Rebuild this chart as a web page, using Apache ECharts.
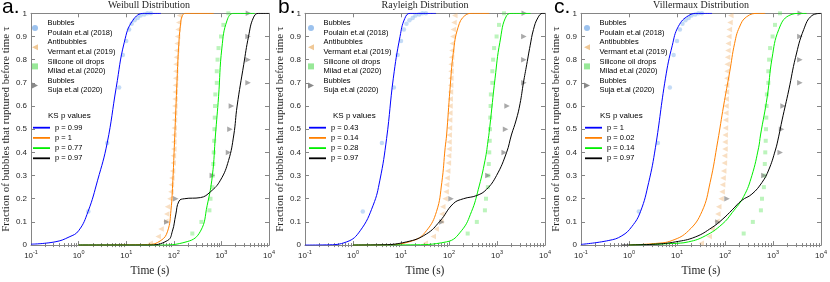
<!DOCTYPE html>
<html><head><meta charset="utf-8">
<script src="https://cdn.jsdelivr.net/npm/echarts@6/dist/echarts.min.js"></script>
<style>html,body{margin:0;padding:0;background:#fff}#c{width:830px;height:282px}</style>
</head><body><div id="c"></div>
<script>
// ---------------- DATA ----------------
const panelTitles = ['Weibull Distribution', 'Rayleigh Distribution', 'Villermaux Distribution'];
const panelLetters = ['a.', 'b.', 'c.'];
const xTickValues = [0.1, 1, 10, 100, 1000, 10000];
const xTickExponents = ['-1', '0', '1', '2', '3', '4'];
const xMinorTicks = [0.2,0.3,0.4,0.5,0.6,0.7,0.8,0.9,2,3,4,5,6,7,8,9,20,30,40,50,60,70,80,90,
  200,300,400,500,600,700,800,900,2000,3000,4000,5000,6000,7000,8000,9000];
const yAxisName = 'Fraction of bubbles that ruptured before time \u03c4';
const xAxisName = 'Time (s)';
const scatterNames = ['Bubbles\nPoulain et.al (2018)', 'Antibubbles\nVermant et.al (2019)',
  'Silicone oil drops\nMilad et.al (2020)', 'Bubbles\nSuja et.al (2020)'];
const ksTitle = 'KS p values';
const ksValues = [['0.99', '1', '0.77', '0.97'], ['0.43', '0.14', '0.28', '0.97'], ['1', '0.02', '0.14', '0.97']];

// experimental points (same in every panel): [time (s), fraction]
const poulainBubbles = [[1.6,0.145],[4.0,0.44],[7.1,0.68],[8.5,0.82],[10,0.88],[11.5,0.93],[13,0.955],
  [15,0.97],[17.5,0.98],[20,0.99],[24,0.995],[28,1.0],[33,1.0]];
const vermantAntibubbles = [[32,0.008],[47,0.037],[54,0.069],[68,0.103],[71,0.134],[74,0.165],[83,0.2],
  [87,0.23],[89,0.26],[91,0.29],[94,0.32],[97,0.354],[98,0.385],[100,0.415],[100,0.445],[101,0.475],
  [102,0.505],[103,0.54],[104,0.57],[105,0.6],[106,0.63],[107,0.66],[108,0.69],[109,0.72],[110,0.75],
  [111,0.78],[113,0.81],[115,0.84],[117,0.87],[120,0.9],[123,0.93],[127,0.96],[132,0.99]];
const miladDrops = [[245,0.05],[380,0.1],[560,0.15],[590,0.2],[645,0.25],[660,0.3],[675,0.35],[690,0.4],
  [705,0.45],[715,0.5],[725,0.55],[735,0.6],[745,0.65],[800,0.7],[800,0.75],[830,0.8],[870,0.85],
  [980,0.9],[1100,0.95],[1400,1.0]];
const sujaBubbles = [[71,0.1],[110,0.2],[645,0.3],[1410,0.4],[1510,0.5],[1620,0.6],[3630,0.7],
  [3630,0.8],[3630,0.9],[3700,1.0]];

// fitted CDFs: [time (s), fraction]
const weibullBlue = [[0.1,0.004],[0.32,0.014],[0.63,0.035],[1,0.062],[1.58,0.145],[2.51,0.28],[3.98,0.44],
  [6.17,0.68],[9.12,0.875],[13.8,0.97],[24,1.0],[53.7,1.0]];
const weibullOrange = [[1,0],[28.2,0.002],[53.7,0.02],[74.1,0.06],[87.1,0.15],[95.5,0.28],[102.3,0.42],
  [109.6,0.57],[117.5,0.72],[125.9,0.85],[138,0.95],[151.4,0.99],[177.8,1.0],[690,1.0]];
const weibullGreen = [[1,0],[45.7,0],[191,0.015],[363,0.06],[501,0.17],[646,0.30],[750,0.475],[871,0.64],
  [1023,0.85],[1318,0.97],[1820,1.0],[5000,1.0]];
const weibullBlack = [[1,0],[28.2,0],[74.1,0.02],[93.3,0.06],[109.6,0.13],[128.8,0.19],[166,0.2],[363,0.205],
  [589,0.23],[955,0.28],[1413,0.365],[1820,0.475],[2138,0.6],[2951,0.78],[3715,0.9],[4677,0.98],
  [6026,1.0],[10000,1.0]];

const rayleighBlue = [[0.1,0],[0.282,0.001],[0.741,0.014],[1.413,0.062],[2.63,0.172],[3.631,0.28],
  [5.012,0.46],[6.918,0.72],[9.55,0.9],[12.02,0.978],[15.49,1.0],[53.7,1.0]];
const rayleighOrange = [[1,0],[4.266,0.001],[18.2,0.02],[33.88,0.062],[54.95,0.145],[70.79,0.27],
  [83.18,0.42],[89.13,0.475],[104.7,0.67],[123,0.83],[154.9,0.94],[213.8,0.99],[323.6,1.0],[690,1.0]];
const rayleighGreen = [[1,0],[15.49,0.001],[89.13,0.014],[182,0.062],[295.1,0.145],[407.4,0.24],
  [562.3,0.365],[660.7,0.46],[707.9,0.51],[912,0.72],[1148,0.875],[1585,0.99],[2188,1.0],[5000,1.0]];
const rayleighBlack = [[1,0],[3.631,0.001],[13.18,0.014],[33.88,0.048],[64.57,0.103],[123,0.179],
  [199.5,0.2],[380.2,0.214],[602.6,0.24],[977.2,0.30],[1585,0.40],[1995,0.475],[2512,0.54],[3020,0.61],
  [3548,0.7],[4169,0.78],[4898,0.86],[5754,0.93],[7079,0.98],[8913,1.0],[10000,1.0]];

const villermauxBlue = [[0.1,0.003],[0.38,0.02],[0.708,0.04],[1.148,0.08],[1.738,0.145],[2.57,0.27],
  [3.548,0.42],[5.754,0.72],[7.943,0.86],[10.72,0.944],[17.38,0.99],[28.18,1.0],[53.7,1.0]];
const villermauxOrange = [[1,0.001],[3.548,0.007],[7.943,0.02],[17.38,0.062],[33.11,0.145],[48.98,0.27],
  [70.79,0.45],[93.3,0.6],[125.9,0.75],[158.5,0.87],[199.5,0.94],[281.8,0.985],[501,1.0],[690,1.0]];
const villermauxGreen = [[1,0],[7.943,0.007],[17.38,0.014],[38.9,0.04],[87.1,0.09],[141.3,0.14],
  [245.5,0.21],[363.1,0.30],[501.2,0.42],[549.5,0.475],[758.6,0.64],[955,0.806],[1318,0.93],
  [2138,0.99],[3981,1.0],[5000,1.0]];
const villermauxBlack = [[0.708,0],[3.548,0.004],[9.333,0.014],[23.99,0.035],[53.7,0.076],[87.1,0.11],
  [141.3,0.152],[223.9,0.193],[363.1,0.22],[588.8,0.27],[812.8,0.324],[1122,0.41],[1318,0.47],
  [1549,0.54],[2138,0.67],[2951,0.81],[4365,0.93],[6457,0.99],[10000,1.0]];

// ---------------- CHART ----------------
const fits = [
  [weibullBlue, weibullOrange, weibullGreen, weibullBlack],
  [rayleighBlue, rayleighOrange, rayleighGreen, rayleighBlack],
  [villermauxBlue, villermauxOrange, villermauxGreen, villermauxBlack]
];
const scatterSets = [poulainBubbles, vermantAntibubbles, miladDrops, sujaBubbles];
const fitColors = ['#0000ff', '#ff8000', '#00ee00', '#000000'];
const scatterColors = ['rgba(90,155,230,0.45)', 'rgba(236,165,90,0.45)', 'rgba(70,225,70,0.45)', 'rgba(120,120,120,0.8)'];
const legendMarkColors = ['#9cc2ee', '#f0c896', '#98e898', '#8a8a8a'];
const scatterSymbols = ['circle', 'path://M0,5L10,0L10,10Z', 'rect', 'path://M10,5L0,0L0,10Z'];
const scatterSizes = [4.5, 5.5, 4, 5.5];

const SANS = '"Liberation Sans", Arial, Helvetica, sans-serif';
const SERIF = '"Liberation Serif", "Times New Roman", serif';
const FRAME = '#858585';
const LAB = '#262626';
const lefts = [29, 305, 581];
const W = 240, TOP = 13.3, H = 241.7;
const ksTitleOffsets = [19, 28, 19];

const labelMap = {};
const option = {
  animation: false, backgroundColor: '#fff',
  grid: [], xAxis: [], yAxis: [], series: [], legend: [], title: [], graphic: []
};

function expOf(v) {
  let best = 0, bd = Infinity;
  xTickValues.forEach((t, i) => { const d = Math.abs(Math.log(v / t)); if (d < bd) { bd = d; best = i; } });
  return xTickExponents[best];
}

for (let p = 0; p < 3; p++) {
  const L = lefts[p];
  option.grid.push({ left: L, top: TOP, width: W, height: H });
  const baseX = { type: 'log', logBase: 10, min: 0.1, max: 10000, gridIndex: p, splitLine: { show: false } };
  option.xAxis.push(Object.assign({}, baseX, {
    position: 'bottom',
    name: xAxisName, nameLocation: 'middle', nameGap: 14.5,
    nameTextStyle: { fontFamily: SERIF, fontSize: 11.5, color: LAB },
    axisLine: { show: true, onZero: false, lineStyle: { color: FRAME, width: 1 } },
    axisTick: { show: true, inside: true, length: 4, customValues: xTickValues, lineStyle: { color: FRAME } },
    axisLabel: {
      show: true, customValues: xTickValues, margin: 4, color: LAB,
      formatter: v => '{b|10}{s|' + expOf(v) + '}',
      rich: {
        b: { fontFamily: SANS, fontSize: 8, color: LAB, lineHeight: 11, verticalAlign: 'bottom' },
        s: { fontFamily: SANS, fontSize: 5.5, color: LAB, lineHeight: 11, verticalAlign: 'top' }
      }
    }
  }));
  option.xAxis.push(Object.assign({}, baseX, {
    position: 'bottom',
    axisLine: { show: false },
    axisTick: { show: true, inside: true, length: 2, customValues: xMinorTicks, lineStyle: { color: FRAME } },
    axisLabel: { show: false }
  }));
  option.xAxis.push(Object.assign({}, baseX, {
    position: 'top',
    axisLine: { show: true, onZero: false, lineStyle: { color: FRAME, width: 1 } },
    axisTick: { show: true, inside: true, length: 4, customValues: xTickValues, lineStyle: { color: FRAME } },
    axisLabel: { show: false }
  }));
  option.xAxis.push(Object.assign({}, baseX, {
    position: 'top',
    axisLine: { show: false },
    axisTick: { show: true, inside: true, length: 2, customValues: xMinorTicks, lineStyle: { color: FRAME } },
    axisLabel: { show: false }
  }));
  const baseY = { type: 'value', min: 0, max: 1, interval: 0.1, gridIndex: p, splitLine: { show: false } };
  option.yAxis.push(Object.assign({}, baseY, {
    position: 'left',
    name: yAxisName, nameLocation: 'middle', nameGap: 14, nameRotate: 90,
    nameTextStyle: { fontFamily: SERIF, fontSize: 11, color: LAB },
    axisLine: { show: true, onZero: false, lineStyle: { color: FRAME, width: 1 } },
    axisTick: { show: true, inside: true, length: 4, lineStyle: { color: FRAME } },
    axisLabel: { show: true, margin: 4, fontFamily: SANS, fontSize: 8, color: LAB }
  }));
  option.yAxis.push(Object.assign({}, baseY, {
    position: 'right',
    axisLine: { show: true, onZero: false, lineStyle: { color: FRAME, width: 1 } },
    axisTick: { show: true, inside: true, length: 4, lineStyle: { color: FRAME } },
    axisLabel: { show: false }
  }));

  const sItems = [], fItems = [];
  for (let k = 0; k < 4; k++) {
    const sn = 's' + p + '_' + k;
    labelMap[sn] = scatterNames[k];
    sItems.push({ name: sn, icon: scatterSymbols[k], itemStyle: { color: legendMarkColors[k], opacity: 1 } });
    option.series.push({
      type: 'scatter', name: sn, xAxisIndex: 4 * p, yAxisIndex: 2 * p,
      data: scatterSets[k], symbol: scatterSymbols[k], symbolSize: scatterSizes[k],
      itemStyle: { color: scatterColors[k] }, z: 2, silent: true
    });
  }
  for (let k = 0; k < 4; k++) {
    const fn = 'f' + p + '_' + k;
    labelMap[fn] = 'p = ' + ksValues[p][k];
    fItems.push({ name: fn, icon: 'rect' });
    option.series.push({
      type: 'line', name: fn, xAxisIndex: 4 * p, yAxisIndex: 2 * p,
      data: fits[p][k], symbol: 'none', showSymbol: false, smooth: 0.45,
      lineStyle: { color: fitColors[k], width: 1 }, itemStyle: { color: fitColors[k] },
      z: 3, silent: true, clip: true
    });
  }
  option.legend.push({
    data: sItems, orient: 'vertical', left: L + 3, top: 18.4, padding: 0,
    itemWidth: 6, itemHeight: 6, itemGap: 0, selectedMode: false,
    formatter: n => labelMap[n],
    textStyle: { fontFamily: SANS, fontSize: 7.5, color: '#000', lineHeight: 9.6, padding: [0, 0, 0, 4.5] }
  });
  option.legend.push({
    data: fItems, orient: 'vertical', left: L + 4, top: 122.7, padding: 0,
    itemWidth: 17, itemHeight: 1.8, itemGap: 0.2, selectedMode: false,
    formatter: n => labelMap[n],
    textStyle: { fontFamily: SANS, fontSize: 7.5, color: '#000', lineHeight: 10 }
  });
  option.title.push({
    text: panelTitles[p], left: L + W / 2, top: 0, textAlign: 'center', padding: 0,
    textStyle: { fontFamily: SERIF, fontSize: 10, fontWeight: 'normal', color: LAB }
  });
  option.graphic.push({
    type: 'text', left: L - 27, top: -3,
    style: { text: panelLetters[p], font: '21px ' + SANS, fill: '#000' }
  });
  option.graphic.push({
    type: 'text', left: L + ksTitleOffsets[p], top: 112,
    style: { text: ksTitle, font: '8px ' + SANS, fill: '#000' }
  });
}

const chart = echarts.init(document.getElementById('c'), null, { renderer: 'canvas', width: 830, height: 282 });
chart.setOption(option);
</script>
</body></html>
